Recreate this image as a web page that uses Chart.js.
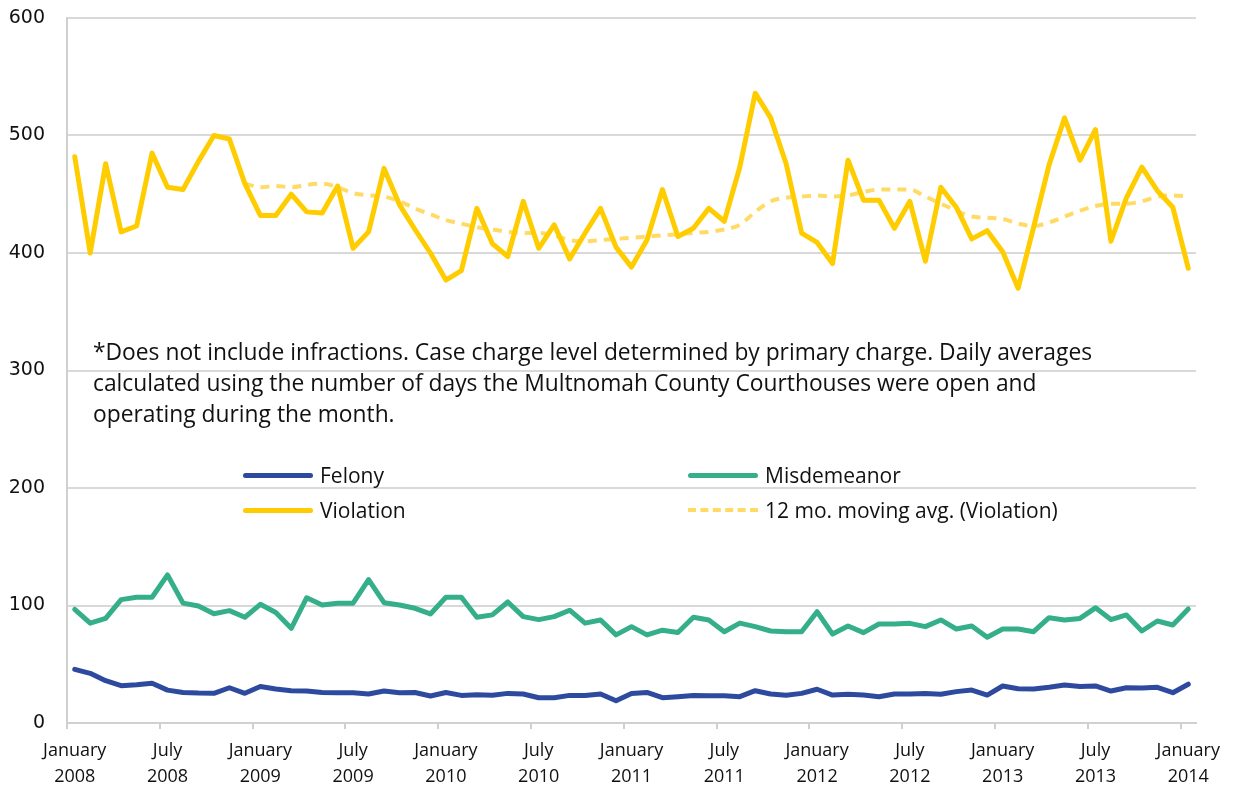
<!DOCTYPE html>
<html>
<head>
<meta charset="utf-8">
<script src="https://cdn.jsdelivr.net/npm/chart.js@4.4.1/dist/chart.umd.min.js"></script>
<style>
  html, body { margin: 0; padding: 0; background: #fff; }
  #wrap { position: relative; width: 1234px; height: 790px; }
  #c { position: absolute; left: 0; top: 0; }
  #note { position: absolute; left: 93px; top: 336px; width: 1030px;
          font-family: "Open Sans", sans-serif; font-size: 22.8px; line-height: 31px; color: #111; }
  #legend { position: absolute; left: 0; top: 0; width: 1234px; height: 790px; pointer-events: none;
            font-family: "Open Sans", sans-serif; font-size: 21px; color: #111; }
  .li { position: absolute; height: 26px; display: flex; align-items: center; }
  .sw { width: 70px; height: 0; margin-right: 7px; }
</style>
</head>
<body>
<div id="wrap">
  <canvas id="c" width="1234" height="790"></canvas>
  <div id="note">*Does not include infractions. Case charge level determined by primary charge. Daily averages calculated using the number of days the Multnomah County Courthouses were open and operating during the month.</div>
  <div id="legend"></div>
</div>
<script>
// ---- Data (Jan 2008 – Jan 2014, monthly) ----
const monthNames = ["January","February","March","April","May","June","July","August","September","October","November","December"];
const startYear = 2008;
const monthCount = 73;

const felony = [
  45.7, 42.3, 36, 31.8, 32.6, 33.8, 28, 26, 25.5, 25.3, 30, 25.3,
  31, 29, 27.5, 27.2, 26, 25.8, 25.8, 24.7, 27.2, 25.8, 26, 23,
  26, 23.5, 24, 23.7, 25.2, 24.7, 21.5, 21.5, 23.5, 23.5, 24.7, 19,
  25.2, 26, 21.5, 22.4, 23.5, 23.2, 23.2, 22.4, 27.5, 24.7, 23.7, 25.2,
  28.7, 23.8, 24.4, 23.8, 22.4, 24.7, 24.7, 25.2, 24.4, 26.7, 28, 23.8,
  31.5, 29.2, 29, 30.4, 32.3, 31, 31.5, 27.2, 30, 29.8, 30.4, 25.8,
  33
];
const misdemeanor = [
  96.7, 85, 89, 105, 107, 107, 126, 102, 99.6, 93, 95.6, 90,
  101, 94, 80.6, 106.6, 100.4, 102, 102, 122, 102.4, 100.4, 97.6, 92.8,
  107, 107, 90, 92, 103, 90.5, 88, 90.5, 96, 85, 87.7, 75,
  82, 75, 79, 77, 90, 87.7, 77.7, 85, 82, 78.3, 77.7, 77.7,
  94.7, 75.7, 82.6, 76.9, 84.3, 84.3, 84.8, 82, 87.7, 80, 82.6, 73,
  80, 80, 77.7, 89.6, 87.7, 89, 98, 88, 92, 78.3, 86.8, 83.4,
  97
];
const violation = [
  482, 400, 476, 418, 423, 485, 456, 454, 478, 500, 497, 459,
  432, 432, 450, 435, 434, 457, 404, 418, 472, 441, 420, 400,
  377, 385, 438, 408, 397, 444, 404, 424, 395, 417, 438, 405,
  388, 411, 454, 414, 421, 438, 427, 473, 536, 515, 476, 417,
  409, 391, 479, 445, 445, 421, 444, 393, 456, 439, 412, 419,
  401, 370, 422, 475, 515, 479, 505, 410, 447, 473, 453, 439,
  387
];
const movingAvg = [
  null, null, null, null, null, null, null, null, null, null, null, 459,
  456, 457, 456, 458, 459, 456, 451, 449, 448, 444, 438, 433,
  428, 425, 422, 420, 418, 417, 417, 415, 411, 410, 411, 412,
  413, 414, 415, 416, 417, 418, 420, 424, 435, 444, 447, 448,
  449, 448, 449, 452, 454, 454, 454, 448, 442, 436, 431, 430,
  429, 425, 423, 426, 431, 436, 440, 442, 442, 444, 448, 449,
  448
];
const yTicks = [0, 100, 200, 300, 400, 500, 600];
const seriesNames = ["Felony", "Misdemeanor", "Violation", "12 mo. moving avg. (Violation)"];

const categories = [];
for (let i = 0; i < monthCount; i++) {
  categories.push(monthNames[i % 12] + " " + (startYear + Math.floor(i / 12)));
}

const colors = { felony: "#2E4A9F", misd: "#35AE8A", viol: "#FFCC00", avg: "#FFDB66" };

const chart = new Chart(document.getElementById("c"), {
  type: "line",
  data: {
    labels: categories,
    datasets: [
      { label: seriesNames[0], data: felony, borderColor: colors.felony, borderWidth: 5, pointRadius: 0, tension: 0, borderJoinStyle: "round", borderCapStyle: "round" },
      { label: seriesNames[1], data: misdemeanor, borderColor: colors.misd, borderWidth: 5, pointRadius: 0, tension: 0, borderJoinStyle: "round", borderCapStyle: "round" },
      { label: seriesNames[2], data: violation, borderColor: colors.viol, borderWidth: 5, pointRadius: 0, tension: 0, borderJoinStyle: "round", borderCapStyle: "round", order: -1 },
      { label: seriesNames[3], data: movingAvg, borderColor: colors.avg, borderWidth: 4, pointRadius: 0, borderDash: [9, 7], cubicInterpolationMode: "monotone", spanGaps: false }
    ]
  },
  options: {
    responsive: false,
    animation: false,
    events: [],
    layout: { padding: { left: 0, right: 38, top: 18, bottom: 0 } },
    plugins: { legend: { display: false }, tooltip: { enabled: false } },
    scales: {
      x: {
        type: "category",
        offset: true,
        border: { display: true, color: "#D0D0D0", width: 2 },
        grid: {
          offset: true,
          drawOnChartArea: false,
          drawTicks: true,
          tickLength: 6,
          lineWidth: 2,
          tickColor: (ctx) => (ctx.index !== undefined && ctx.index % 6 === 0) ? "#D0D0D0" : "rgba(0,0,0,0)"
        },
        ticks: {
          autoSkip: false,
          maxRotation: 0,
          minRotation: 0,
          padding: 9,
          color: "#111",
          font: { family: "'Open Sans', sans-serif", size: 18, lineHeight: 1.45 },
          callback: function (value, index) {
            if (index % 6 !== 0) return "";
            const i = index;
            return [monthNames[i % 12], String(startYear + Math.floor(i / 12))];
          }
        },
        afterFit: (scale) => { scale.height = 67; }
      },
      y: {
        min: 0,
        max: 600,
        border: { display: true, color: "#D0D0D0", width: 2 },
        grid: { color: "#D9D9D9", lineWidth: 2, drawTicks: false },
        afterBuildTicks: (scale) => { scale.ticks = yTicks.map(v => ({ value: v })); },
        ticks: {
          padding: 22,
          color: "#111",
          font: { family: "'DejaVu Sans', sans-serif", size: 19 }
        },
        afterFit: (scale) => { scale.width = 67; scale.paddingTop = 0; scale.paddingBottom = 0; }
      }
    }
  }
});

// HTML legend built from the datasets
const legendPos = [
  { left: 243, top: 462 },
  { left: 688, top: 462 },
  { left: 243, top: 497 },
  { left: 688, top: 497 }
];
const legendEl = document.getElementById("legend");
chart.data.datasets.forEach((ds, i) => {
  const item = document.createElement("div");
  item.className = "li";
  item.style.left = legendPos[i].left + "px";
  item.style.top = legendPos[i].top + "px";
  const sw = document.createElement("span");
  sw.className = "sw";
  if (ds.borderDash) {
    sw.style.borderTop = "4px dashed " + ds.borderColor;
  } else {
    sw.style.borderTop = "5px solid " + ds.borderColor;
    sw.style.borderRadius = "3px";
  }
  const tx = document.createElement("span");
  tx.textContent = ds.label;
  item.appendChild(sw);
  item.appendChild(tx);
  legendEl.appendChild(item);
});
</script>
</body>
</html>
